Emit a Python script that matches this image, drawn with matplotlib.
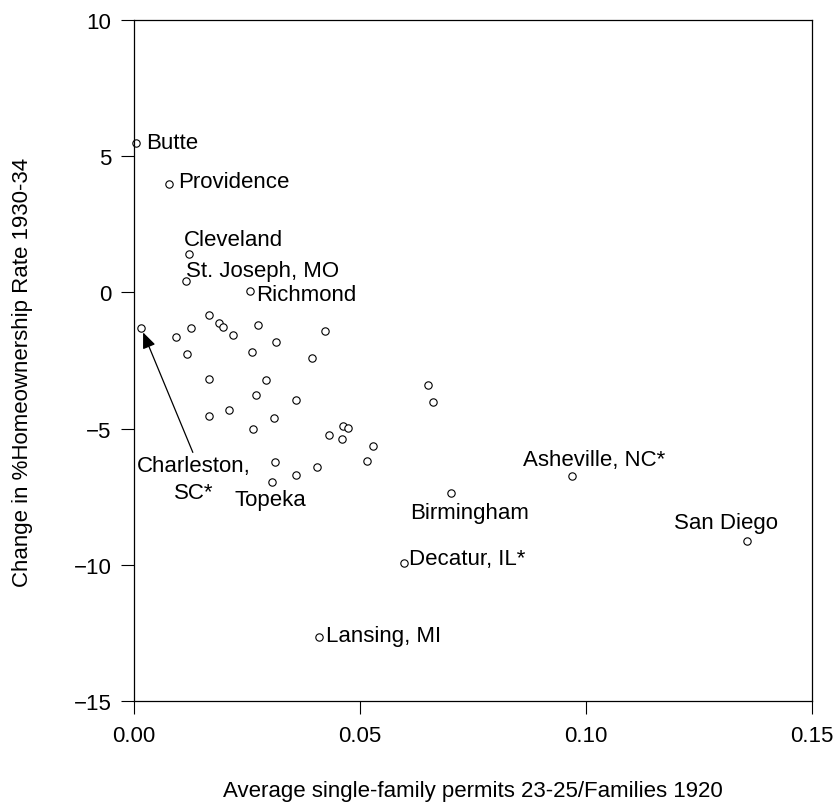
import numpy as np
import matplotlib
matplotlib.use('Agg')
import matplotlib.pyplot as plt

plt.rcParams['font.family'] = ['Liberation Sans', 'DejaVu Sans']
plt.rcParams['font.size'] = 16

# labelled cities
names = ['Butte', 'Providence', 'Cleveland', 'St. Joseph, MO', 'Richmond',
         'Charleston,\nSC*', 'Topeka', 'Birmingham', 'Asheville, NC*',
         'San Diego', 'Decatur, IL*', 'Lansing, MI']
name_x = [0.0006, 0.0078, 0.0123, 0.0115, 0.0258, 0.0017, 0.0307, 0.0703,
          0.0970, 0.1356, 0.0599, 0.0409]
name_y = [5.49, 3.96, 1.39, 0.40, 0.04, -1.30, -6.96, -7.35, -6.73, -9.11,
          -9.92, -12.63]

# other cities (no label)
other_x = [0.0094, 0.0128, 0.0119, 0.0168, 0.0188, 0.0197, 0.0221, 0.0275,
           0.0314, 0.0261, 0.0424, 0.0395, 0.0168, 0.0294, 0.0270, 0.0360,
           0.0168, 0.0211, 0.0311, 0.0264, 0.0433, 0.0464, 0.0474, 0.0460,
           0.0530, 0.0516, 0.0312, 0.0406, 0.0359, 0.0650, 0.0663]
other_y = [-1.64, -1.31, -2.26, -0.83, -1.11, -1.26, -1.55, -1.20, -1.83,
           -2.18, -1.42, -2.40, -3.19, -3.23, -3.75, -3.95, -4.55, -4.33,
           -4.60, -5.01, -5.22, -4.90, -4.96, -5.39, -5.65, -6.20, -6.21,
           -6.39, -6.71, -3.40, -4.04]

xticks = [0.00, 0.05, 0.10, 0.15]
yticks = [-15, -10, -5, 0, 5, 10]

# label placement: offset in pixels from the point (first line baseline), alignment
offsets = {
    'Butte': (9.7, -5.4, 'left'),
    'Providence': (9, -2.7, 'left'),
    'Cleveland': (-5.3, 9.7, 'left'),
    'St. Joseph, MO': (0.4, 5.3, 'left'),
    'Richmond': (6.4, -8.5, 'left'),
    'Charleston,\nSC*': (52.8, -143.4, 'center'),
    'Topeka': (-2.3, -23.3, 'center'),
    'Birmingham': (17.9, -25, 'center'),
    'Asheville, NC*': (22, 11, 'center'),
    'San Diego': (-21.2, 13, 'center'),
    'Decatur, IL*': (4.7, -1.7, 'left'),
    'Lansing, MI': (7.7, -4.4, 'left'),
}
line_step = 26.6  # px between stacked label lines

W, H = 834, 803
fig = plt.figure(figsize=(W / 100., H / 100.), dpi=100)
ax = fig.add_axes([133.5 / W, 1 - 702.3 / H, (812 - 133.5) / W, (702.3 - 20.7) / H])

mk = dict(marker='o', ms=5.3, mfc='white', mec='black', mew=0.8, ls='none', clip_on=False)
ax.plot(other_x, other_y, **mk)
ax.plot(name_x, name_y, **mk)

arrow = dict(arrowstyle='-|>,head_length=0.6,head_width=0.25', color='black',
             lw=0.9, shrinkA=0, shrinkB=3.6, relpos=(0.5, 1.0))

for n, x, y in zip(names, name_x, name_y):
    dx, dy, ha = offsets[n]
    lines = n.split('\n')
    for i, s in enumerate(lines):
        ap = arrow if (len(lines) > 1 and i == 0) else None
        ax.annotate(s, xy=(x, y), xytext=(dx, dy - i * line_step),
                    textcoords='offset pixels', ha=ha, va='baseline',
                    arrowprops=ap)

ax.set_xlim(0, 0.15)
ax.set_ylim(-15, 10)
ax.set_xticks(xticks)
ax.set_xticklabels(['%.2f' % v for v in xticks])
ax.set_yticks(yticks)
ax.tick_params(direction='out', length=9.4, width=0.8, pad=6.5)
ax.tick_params(axis='x', pad=7.7)
for s in ax.spines.values():
    s.set_linewidth(0.9)

fig.text(472.75 / W, 1 - 797.3 / H, 'Average single-family permits 23-25/Families 1920',
         ha='center', va='baseline')
fig.text(28.3 / W, 1 - 372 / H, 'Change in %Homeownership Rate 1930-34',
         rotation=90, rotation_mode='anchor', ha='center', va='baseline')

fig.savefig('out.png', dpi=100)
